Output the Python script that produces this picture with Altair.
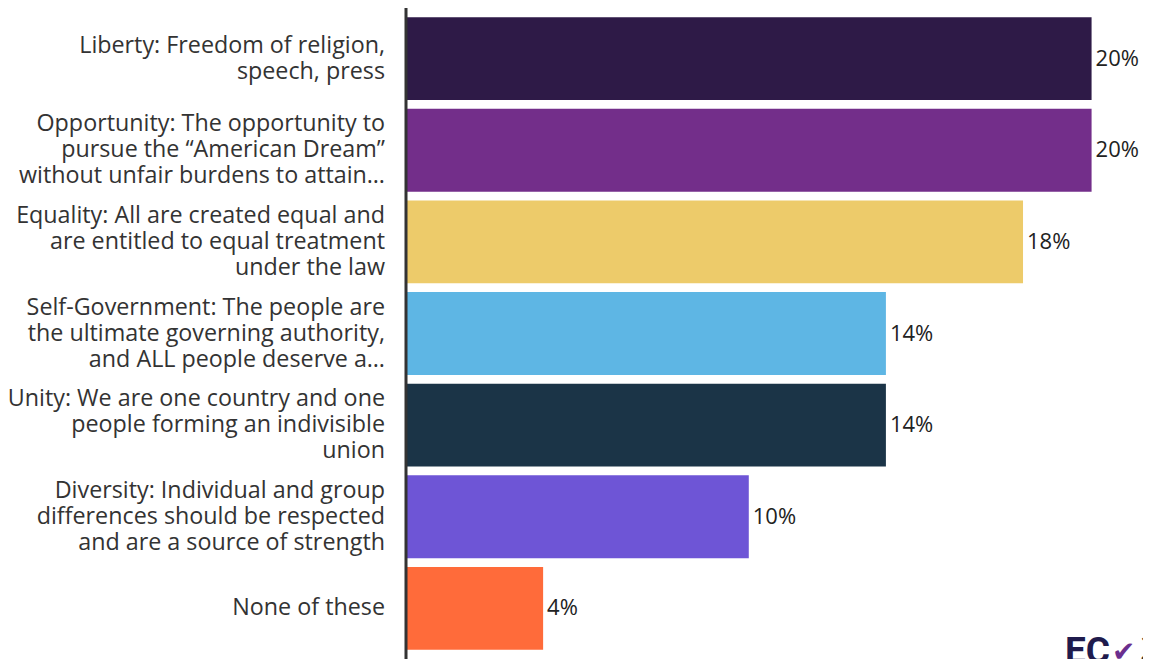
import altair as alt
import pandas as pd

categories = [
    "Liberty: Freedom of religion,|speech, press",
    "Opportunity: The opportunity to|pursue the \u201cAmerican Dream\u201d|without unfair burdens to attain\u2026",
    "Equality: All are created equal and|are entitled to equal treatment|under the law",
    "Self-Government: The people are|the ultimate governing authority,|and ALL people deserve a\u2026",
    "Unity: We are one country and one|people forming an indivisible|union",
    "Diversity: Individual and group|differences should be respected|and are a source of strength",
    "None of these",
]
values = [20, 20, 18, 14, 14, 10, 4]
colors = ["#2E1A47", "#732E8A", "#EDCB6A", "#5EB6E4", "#1B3447", "#6E55D6", "#FF6B3A"]

df = pd.DataFrame({"cat": categories, "val": values, "color": colors})
df["label"] = df["val"].astype(str) + "%"
df["nlines"] = df["cat"].str.count(r"\|") + 1

FONT = "Open Sans"
LH = 26
H = 651

y_enc = alt.Y(
    "cat:N",
    sort=categories,
    title=None,
    scale=alt.Scale(paddingInner=0.095, paddingOuter=0.1),
    axis=None,
)
x_enc = alt.X(
    "val:Q",
    scale=alt.Scale(domain=[0, 21.5], nice=False),
    axis=None,
)

base = alt.Chart(df)

bars = base.mark_bar().encode(
    y=y_enc,
    x=x_enc,
    color=alt.Color("color:N", scale=None),
)

text = base.mark_text(
    align="left", baseline="middle", dx=4, font=FONT, fontSize=22, color="#222222"
).encode(y=y_enc, x=x_enc, text="label:N")

label_layers = []
for k in (1, 2, 3):
    label_layers.append(
        base.transform_filter(alt.datum.nlines == k)
        .mark_text(
            align="right", baseline="middle", lineBreak="|", lineHeight=LH,
            font=FONT, fontSize=23.3, color="#333333", dy=-(k - 1) * LH / 2,
        )
        .encode(y=y_enc, x=alt.value(-21), text="cat:N")
    )

axis_line = alt.Chart(pd.DataFrame({"z": [0]})).mark_rule(
    color="#333333", strokeWidth=3
).encode(x=alt.value(0), y=alt.value(0), y2=alt.value(H + 10))

logo_ec = alt.Chart(pd.DataFrame({"t": ["EC"]})).mark_text(
    align="left", baseline="alphabetic", font="Roboto", fontWeight="bold", fontSize=37, color="#1F1B4D"
).encode(x=alt.value(659), y=alt.value(655), text="t:N")
logo_v = alt.Chart(pd.DataFrame({"t": ["\u2714"]})).mark_text(
    align="left", baseline="alphabetic", font="DejaVu Sans", fontSize=28, color="#6A2E8E"
).encode(x=alt.value(706), y=alt.value(653), text="t:N")
logo_2 = alt.Chart(pd.DataFrame({"t": ["2"]})).mark_text(
    align="left", baseline="alphabetic", font=FONT, fontSize=32, color="#333333"
).encode(x=alt.value(734), y=alt.value(652), text="t:N")

chart = (
    alt.layer(bars, text, *label_layers, axis_line, logo_ec, logo_v, logo_2)
    .properties(
        width=737,
        height=H,
        autosize=alt.AutoSizeParams(type="none"),
        padding={"left": 398, "top": 0, "right": 0, "bottom": 0},
        view=alt.ViewBackground(strokeWidth=0, strokeOpacity=0),
    )
    .configure_view(strokeWidth=0, strokeOpacity=0)
    .configure(background="white")
)

chart.save("out.html", embed_options={"renderer": "svg", "actions": False})
